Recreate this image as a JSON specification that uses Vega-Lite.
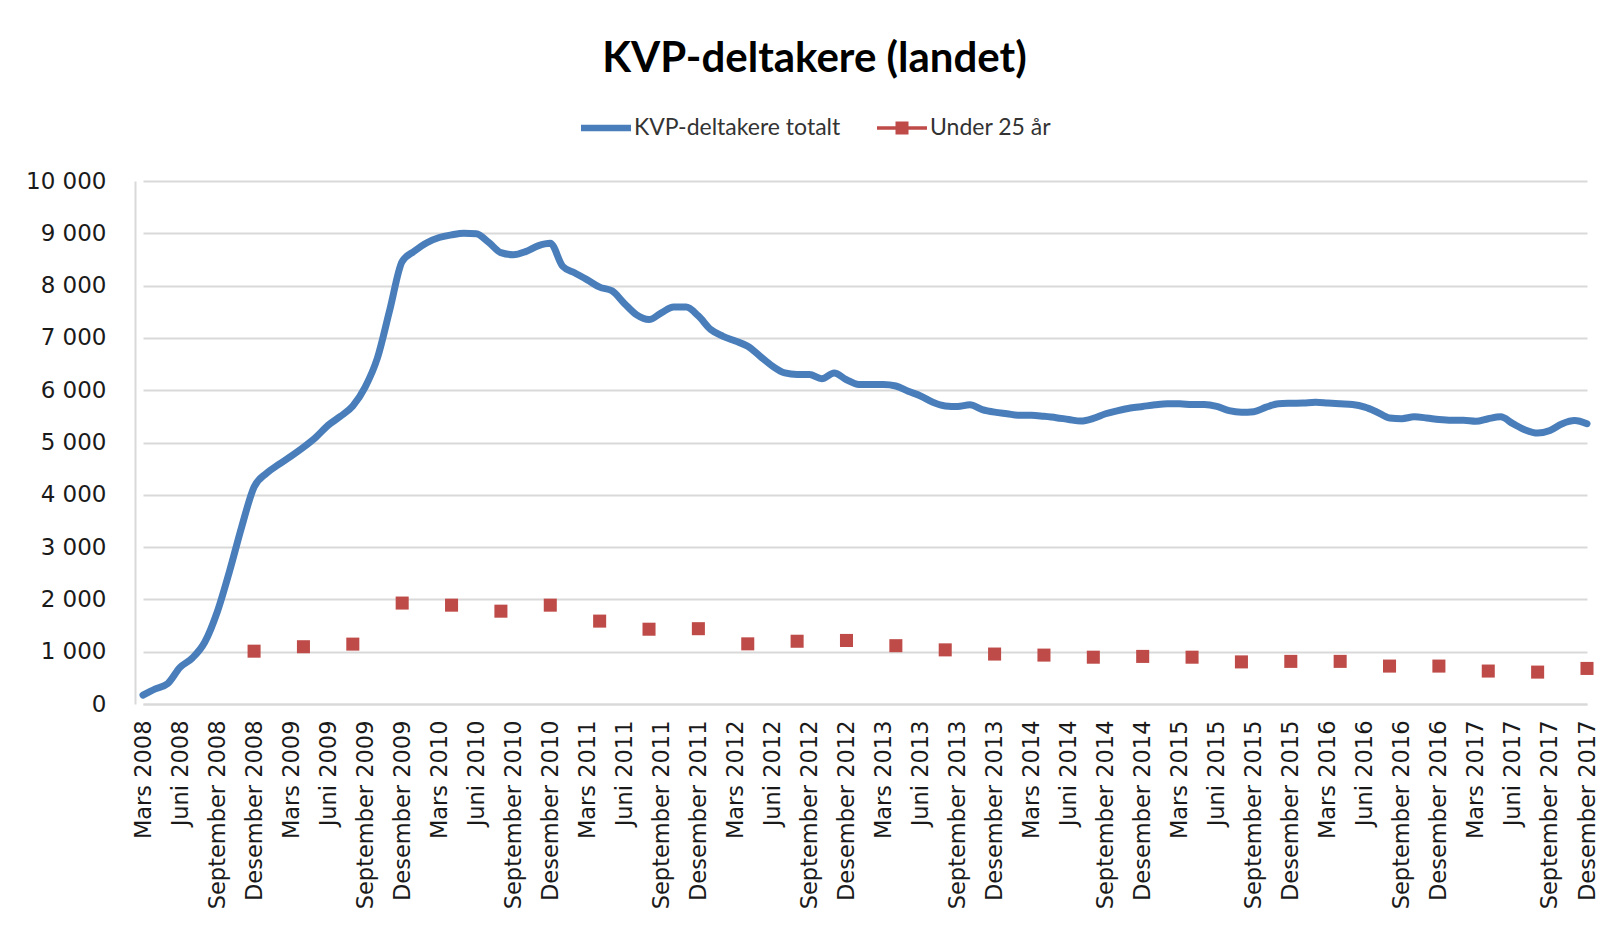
{
  "$schema": "https://vega.github.io/schema/vega-lite/v6.json",
  "autosize": {"type": "none"},
  "width": 1455,
  "height": 523,
  "padding": {"left": 135, "top": 181, "right": 18, "bottom": 221},
  "background": "#ffffff",
  "title": {
    "text": "KVP-deltakere (landet)",
    "font": "Lato",
    "fontWeight": "bold",
    "fontSize": 42,
    "color": "#000000",
    "anchor": "middle",
    "dx": -48,
    "dy": -18
  },
  "datasets": {
    "kvp": [
      {"m": "Mars 2008", "total": 170},
      {"m": "April 2008", "total": 290},
      {"m": "Mai 2008", "total": 390},
      {"m": "Juni 2008", "total": 700},
      {"m": "Juli 2008", "total": 880},
      {"m": "August 2008", "total": 1180},
      {"m": "September 2008", "total": 1750},
      {"m": "Oktober 2008", "total": 2530},
      {"m": "November 2008", "total": 3390},
      {"m": "Desember 2008", "total": 4150, "u25": 1010},
      {"m": "Januar 2009", "total": 4410},
      {"m": "Februar 2009", "total": 4580},
      {"m": "Mars 2009", "total": 4740},
      {"m": "April 2009", "total": 4910, "u25": 1095},
      {"m": "Mai 2009", "total": 5100},
      {"m": "Juni 2009", "total": 5330},
      {"m": "Juli 2009", "total": 5500},
      {"m": "August 2009", "total": 5700, "u25": 1145},
      {"m": "September 2009", "total": 6060},
      {"m": "Oktober 2009", "total": 6620},
      {"m": "November 2009", "total": 7540},
      {"m": "Desember 2009", "total": 8460, "u25": 1930},
      {"m": "Januar 2010", "total": 8660},
      {"m": "Februar 2010", "total": 8820},
      {"m": "Mars 2010", "total": 8920},
      {"m": "April 2010", "total": 8970, "u25": 1890},
      {"m": "Mai 2010", "total": 9000},
      {"m": "Juni 2010", "total": 8990},
      {"m": "Juli 2010", "total": 8830},
      {"m": "August 2010", "total": 8630, "u25": 1775},
      {"m": "September 2010", "total": 8590},
      {"m": "Oktober 2010", "total": 8650},
      {"m": "November 2010", "total": 8760},
      {"m": "Desember 2010", "total": 8810, "u25": 1890},
      {"m": "Januar 2011", "total": 8370},
      {"m": "Februar 2011", "total": 8240},
      {"m": "Mars 2011", "total": 8110},
      {"m": "April 2011", "total": 7970, "u25": 1585},
      {"m": "Mai 2011", "total": 7900},
      {"m": "Juni 2011", "total": 7660},
      {"m": "Juli 2011", "total": 7440},
      {"m": "August 2011", "total": 7350, "u25": 1430},
      {"m": "September 2011", "total": 7480},
      {"m": "Oktober 2011", "total": 7590},
      {"m": "November 2011", "total": 7590},
      {"m": "Desember 2011", "total": 7420, "u25": 1440},
      {"m": "Januar 2012", "total": 7160},
      {"m": "Februar 2012", "total": 7030},
      {"m": "Mars 2012", "total": 6940},
      {"m": "April 2012", "total": 6840, "u25": 1150},
      {"m": "Mai 2012", "total": 6650},
      {"m": "Juni 2012", "total": 6460},
      {"m": "Juli 2012", "total": 6330},
      {"m": "August 2012", "total": 6300, "u25": 1200},
      {"m": "September 2012", "total": 6300},
      {"m": "Oktober 2012", "total": 6220},
      {"m": "November 2012", "total": 6330},
      {"m": "Desember 2012", "total": 6200, "u25": 1215},
      {"m": "Januar 2013", "total": 6110},
      {"m": "Februar 2013", "total": 6110},
      {"m": "Mars 2013", "total": 6110},
      {"m": "April 2013", "total": 6080, "u25": 1115},
      {"m": "Mai 2013", "total": 5980},
      {"m": "Juni 2013", "total": 5890},
      {"m": "Juli 2013", "total": 5770},
      {"m": "August 2013", "total": 5700, "u25": 1035},
      {"m": "September 2013", "total": 5690},
      {"m": "Oktober 2013", "total": 5720},
      {"m": "November 2013", "total": 5630},
      {"m": "Desember 2013", "total": 5580, "u25": 955},
      {"m": "Januar 2014", "total": 5550},
      {"m": "Februar 2014", "total": 5520},
      {"m": "Mars 2014", "total": 5520},
      {"m": "April 2014", "total": 5500, "u25": 935},
      {"m": "Mai 2014", "total": 5475},
      {"m": "Juni 2014", "total": 5440},
      {"m": "Juli 2014", "total": 5410},
      {"m": "August 2014", "total": 5460, "u25": 895},
      {"m": "September 2014", "total": 5550},
      {"m": "Oktober 2014", "total": 5610},
      {"m": "November 2014", "total": 5660},
      {"m": "Desember 2014", "total": 5690, "u25": 910},
      {"m": "Januar 2015", "total": 5720},
      {"m": "Februar 2015", "total": 5740},
      {"m": "Mars 2015", "total": 5740},
      {"m": "April 2015", "total": 5725, "u25": 895},
      {"m": "Mai 2015", "total": 5725},
      {"m": "Juni 2015", "total": 5690},
      {"m": "Juli 2015", "total": 5610},
      {"m": "August 2015", "total": 5580, "u25": 805},
      {"m": "September 2015", "total": 5590},
      {"m": "Oktober 2015", "total": 5675},
      {"m": "November 2015", "total": 5740},
      {"m": "Desember 2015", "total": 5750, "u25": 815},
      {"m": "Januar 2016", "total": 5755},
      {"m": "Februar 2016", "total": 5770},
      {"m": "Mars 2016", "total": 5755},
      {"m": "April 2016", "total": 5740, "u25": 815},
      {"m": "Mai 2016", "total": 5725},
      {"m": "Juni 2016", "total": 5675},
      {"m": "Juli 2016", "total": 5580},
      {"m": "August 2016", "total": 5470, "u25": 725},
      {"m": "September 2016", "total": 5455},
      {"m": "Oktober 2016", "total": 5490},
      {"m": "November 2016", "total": 5470},
      {"m": "Desember 2016", "total": 5440, "u25": 725},
      {"m": "Januar 2017", "total": 5425},
      {"m": "Februar 2017", "total": 5425},
      {"m": "Mars 2017", "total": 5405},
      {"m": "April 2017", "total": 5455, "u25": 630},
      {"m": "Mai 2017", "total": 5490},
      {"m": "Juni 2017", "total": 5360},
      {"m": "Juli 2017", "total": 5240},
      {"m": "August 2017", "total": 5180, "u25": 610},
      {"m": "September 2017", "total": 5230},
      {"m": "Oktober 2017", "total": 5360},
      {"m": "November 2017", "total": 5420},
      {"m": "Desember 2017", "total": 5360, "u25": 680}
    ]
  },
  "data": {"name": "kvp"},
  "encoding": {
    "x": {
      "field": "m",
      "type": "ordinal",
      "sort": null,
      "scale": {"type": "point", "padding": 0, "range": [8, 1452]},
      "axis": {
        "title": null,
        "labelAngle": -90,
        "labelFont": "DejaVu Sans",
        "labelFontSize": 22.5,
        "labelColor": "#1a1a1a",
        "labelPadding": 16,
        "labelLimit": 0,
        "ticks": false,
        "grid": false,
        "domainColor": "#d9d9d9",
        "domainWidth": 2,
        "labelOverlap": false,
        "values": ["Mars 2008", "Juni 2008", "September 2008", "Desember 2008", "Mars 2009", "Juni 2009", "September 2009", "Desember 2009", "Mars 2010", "Juni 2010", "September 2010", "Desember 2010", "Mars 2011", "Juni 2011", "September 2011", "Desember 2011", "Mars 2012", "Juni 2012", "September 2012", "Desember 2012", "Mars 2013", "Juni 2013", "September 2013", "Desember 2013", "Mars 2014", "Juni 2014", "September 2014", "Desember 2014", "Mars 2015", "Juni 2015", "September 2015", "Desember 2015", "Mars 2016", "Juni 2016", "September 2016", "Desember 2016", "Mars 2017", "Juni 2017", "September 2017", "Desember 2017"]
      }
    }
  },
  "layer": [
    {
      "mark": {"type": "line", "strokeWidth": 7, "strokeJoin": "round", "strokeCap": "round", "interpolate": "monotone"},
      "encoding": {
        "y": {
          "field": "total",
          "type": "quantitative",
          "scale": {"domain": [0, 10000], "nice": false},
          "axis": {
            "title": null,
            "values": [0, 1000, 2000, 3000, 4000, 5000, 6000, 7000, 8000, 9000, 10000],
            "labelExpr": "replace(format(datum.value, ','), ',', ' ')",
            "labelFont": "DejaVu Sans",
            "labelFontSize": 23,
            "labelColor": "#1a1a1a",
            "labelPadding": 29,
            "ticks": false,
            "grid": true,
            "gridColor": "#d9d9d9",
            "gridWidth": 2,
            "domainColor": "#d9d9d9",
            "domainWidth": 2
          }
        },
        "color": {
          "datum": "KVP-deltakere totalt",
          "type": "nominal",
          "scale": {"domain": ["KVP-deltakere totalt", "Under 25 år"], "range": ["#4a7ebb", "#be4b48"]},
          "legend": {
            "title": null,
            "orient": "none",
            "direction": "horizontal",
            "legendX": 446,
            "legendY": -78,
            "padding": 0,
            "columnPadding": 36,
            "symbolSize": 2500,
            "labelOffset": 3,
            "labelLimit": 0,
            "labelFont": "Lato",
            "labelFontSize": 23,
            "labelColor": "#333333",
            "encode": {
              "symbols": {
                "update": {
                  "shape": {"signal": "datum.value === 'Under 25 år' ? 'M-1,-0.07H1V0.07H-1Z M-0.26,-0.26H0.26V0.26H-0.26Z' : 'M-1,-0.13H1V0.13H-1Z'"},
                  "fill": {"signal": "datum.value === 'Under 25 år' ? '#be4b48' : '#4a7ebb'"},
                  "stroke": {"value": "transparent"},
                  "strokeWidth": {"value": 0},
                  "opacity": {"value": 1},
                  "fillOpacity": {"value": 1}
                }
              }
            }
          }
        }
      }
    },
    {
      "transform": [{"filter": "isValid(datum.u25)"}],
      "mark": {"type": "point", "shape": "square", "filled": true, "size": 170, "opacity": 1},
      "encoding": {
        "y": {"field": "u25", "type": "quantitative"},
        "color": {"datum": "Under 25 år", "type": "nominal"}
      }
    }
  ],
  "config": {
    "view": {"stroke": null}
  }
}
